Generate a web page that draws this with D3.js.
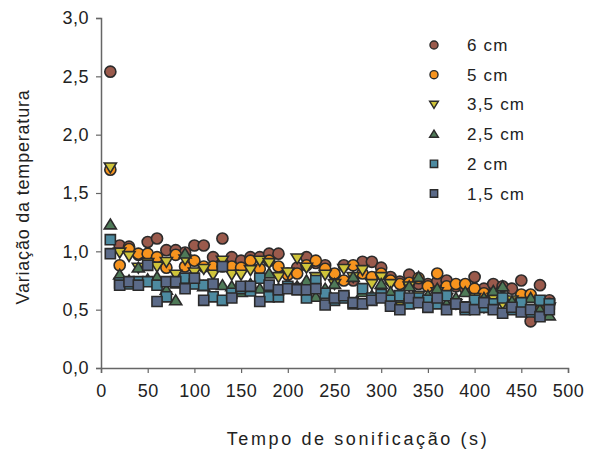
<!DOCTYPE html>
<html lang="pt">
<head>
<meta charset="UTF-8" />
<title>Variação da temperatura</title>
<script src="https://d3js.org/d3.v7.min.js"></script>
<style>
  body { margin: 0; background: #fff; }
  svg text { font-family: "Liberation Sans", Arial, sans-serif; fill: #222; }
</style>
</head>
<body>
<svg width="610" height="450"></svg>
<script>
// tempo de sonificação (s)
const times = d3.range(10, 481, 10);

const cm6 = [2.54, 1.05, 1.04, 0.97, 1.08, 1.11, 1.01, 1.01, 0.99, 1.05, 1.05, 0.95, 1.11, 0.95, 0.92, 0.95,
  0.95, 0.98, 0.98, 0.81, 0.86, 0.95, 0.90, 0.88, 0.80, 0.88, 0.75, 0.91, 0.91, 0.86, 0.78, 0.74,
  0.80, 0.72, 0.72, 0.74, 0.75, 0.70, 0.68, 0.78, 0.68, 0.72, 0.70, 0.68, 0.75, 0.40, 0.71, 0.58];
const cm5 = [1.70, 0.88, 1.02, 0.98, 0.98, 0.95, 0.86, 0.97, 0.87, 0.92, 0.87, 0.87, 0.87, 0.87, 0.86, 0.92,
  0.85, 0.92, 0.87, 0.80, 0.81, 0.88, 0.92, 0.85, 0.81, 0.75, 0.88, 0.81, 0.78, 0.81, 0.75, 0.72,
  0.73, 0.77, 0.70, 0.81, 0.70, 0.72, 0.72, 0.68, 0.64, 0.63, 0.60, 0.51, 0.63, 0.63, 0.53, 0.55];
const cm35 = [1.72, 0.99, 0.96, 0.86, 0.90, 0.87, 0.91, 0.80, 0.93, 0.82, 0.85, 0.80, 0.92, 0.80, 0.80, 0.84,
  0.92, 0.90, 0.78, 0.82, 0.94, 0.86, 0.78, 0.80, 0.72, 0.85, 0.78, 0.84, 0.72, 0.78, 0.72, 0.55,
  0.70, 0.62, 0.58, 0.65, 0.60, 0.55, 0.53, 0.60, 0.52, 0.60, 0.55, 0.58, 0.56, 0.50, 0.55, 0.52];
const cm25 = [1.23, 0.80, 0.75, 0.86, 0.76, 0.78, 0.67, 0.58, 0.98, 0.72, 0.70, 0.72, 0.71, 0.70, 0.65, 0.72,
  0.68, 0.81, 0.68, 0.72, 0.70, 0.75, 0.61, 0.68, 0.72, 0.60, 0.78, 0.65, 0.62, 0.72, 0.65, 0.60,
  0.70, 0.78, 0.62, 0.68, 0.55, 0.60, 0.65, 0.58, 0.60, 0.66, 0.70, 0.57, 0.55, 0.60, 0.50, 0.45];
const cm2 = [1.10, 0.73, 0.72, 0.74, 0.74, 0.71, 0.61, 0.73, 0.77, 0.72, 0.71, 0.61, 0.58, 0.64, 0.68, 0.66,
  0.77, 0.61, 0.61, 0.70, 0.68, 0.60, 0.75, 0.64, 0.58, 0.60, 0.55, 0.68, 0.60, 0.63, 0.58, 0.62,
  0.55, 0.60, 0.58, 0.55, 0.62, 0.55, 0.50, 0.58, 0.52, 0.55, 0.60, 0.50, 0.56, 0.48, 0.58, 0.55];
const cm15 = [0.98, 0.71, 0.74, 0.71, 0.88, 0.57, 0.74, 0.74, 0.68, 0.77, 0.58, 0.72, 0.87, 0.60, 0.70, 0.70,
  0.57, 0.71, 0.67, 0.68, 0.67, 0.67, 0.68, 0.54, 0.60, 0.62, 0.56, 0.55, 0.58, 0.60, 0.53, 0.50,
  0.60, 0.56, 0.52, 0.60, 0.50, 0.55, 0.52, 0.50, 0.56, 0.50, 0.47, 0.52, 0.48, 0.50, 0.44, 0.50];

const seriesNames = ["6 cm", "5 cm", "3,5 cm", "2,5 cm", "2 cm", "1,5 cm"];
const seriesValues = [cm6, cm5, cm35, cm25, cm2, cm15];
const seriesColors = ["#9a5a4c", "#f7941e", "#cfc43a", "#4f7a58", "#4d8aa0", "#5b6a88"];
const seriesShapes = ["circle", "circle", "down", "up", "square", "square"];

const xTicks = [0, 50, 100, 150, 200, 250, 300, 350, 400, 450, 500];
const yTicks = [0, 0.5, 1, 1.5, 2, 2.5, 3];

const svg = d3.select("svg");
const margin = { left: 101, right: 42, top: 18, bottom: 82 };
const width = 610, height = 450;

const x = d3.scaleLinear().domain([0, 500]).range([margin.left, width - margin.right]);
const y = d3.scaleLinear().domain([0, 3]).range([height - margin.bottom, margin.top]);
const fmt = d3.format(".1f");

// marker path for each shape
function markerPath(shape, s) {
  if (shape === "circle") return d3.symbol(d3.symbolCircle, s * s * 0.8)();
  if (shape === "square") return d3.symbol(d3.symbolSquare, s * s * 0.85)();
  const h = s * 0.5;
  if (shape === "up") return `M0,${-h}L${h * 1.1},${h * 0.8}L${-h * 1.1},${h * 0.8}Z`;
  return `M0,${h}L${h * 1.1},${-h * 0.8}L${-h * 1.1},${-h * 0.8}Z`;
}

// points
seriesValues.forEach((vals, i) => {
  svg.append("g")
    .selectAll("path")
    .data(vals.map((v, j) => ({ t: times[j], v: v })))
    .join("path")
    .attr("transform", (d) => `translate(${x(d.t)},${y(d.v)})`)
    .attr("d", markerPath(seriesShapes[i], 11))
    .attr("fill", seriesColors[i])
    .attr("stroke", "#2b2b2b")
    .attr("stroke-width", 1.6);
});

// axes
const xAxis = svg.append("g")
  .attr("transform", `translate(0,${height - margin.bottom})`)
  .call(d3.axisBottom(x).tickValues(xTicks).tickSize(5).tickPadding(11));
const yAxis = svg.append("g")
  .attr("transform", `translate(${margin.left},0)`)
  .call(d3.axisLeft(y).tickValues(yTicks).tickSize(5).tickPadding(7)
    .tickFormat((d) => fmt(d).replace(".", ",")));

[xAxis, yAxis].forEach((a) => {
  a.select(".domain").attr("stroke", "#666").attr("stroke-width", 1.5);
  a.selectAll(".tick line").attr("stroke", "#666").attr("stroke-width", 1.2);
  a.selectAll("text").style("font-size", "18px").style("letter-spacing", "0.5px").attr("fill", "#222");
});

// axis titles
svg.append("text")
  .attr("x", 358)
  .attr("y", 445)
  .attr("text-anchor", "middle")
  .style("font-size", "18px")
  .style("letter-spacing", "2.6px")
  .text("Tempo de sonificação (s)");

svg.append("text")
  .attr("transform", `translate(29,197) rotate(-90)`)
  .attr("text-anchor", "middle")
  .style("font-size", "18px")
  .style("letter-spacing", "0.8px")
  .text("Variação da temperatura");

// legend
const legend = svg.append("g").attr("transform", "translate(434,45)");
seriesNames.forEach((name, i) => {
  const row = legend.append("g").attr("transform", `translate(0,${i * 29.7})`);
  row.append("path")
    .attr("d", markerPath(seriesShapes[i], 8))
    .attr("fill", seriesColors[i])
    .attr("stroke", "#2b2b2b")
    .attr("stroke-width", 1.4);
  row.append("text")
    .attr("x", 33)
    .attr("y", 6)
    .style("font-size", "17px")
    .style("letter-spacing", "1.2px")
    .text(name);
});
</script>
</body>
</html>
